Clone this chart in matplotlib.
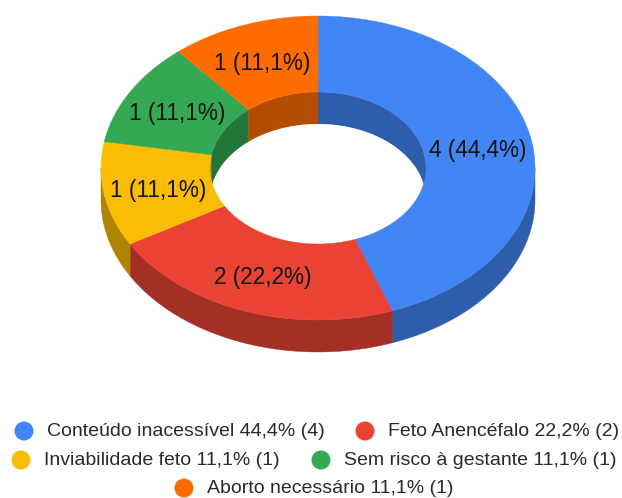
import numpy as np
import matplotlib
matplotlib.use("Agg")
import matplotlib.pyplot as plt
from matplotlib.patches import Polygon, Circle, Ellipse

plt.rcParams['font.family'] = ['Liberation Sans', 'DejaVu Sans']

labels = ["Conteúdo inacessível", "Feto Anencéfalo", "Inviabilidade feto", "Sem risco à gestante", "Aborto necessário"]
values = [4, 2, 1, 1, 1]
slice_labels = ["4 (44,4%)", "2 (22,2%)", "1 (11,1%)", "1 (11,1%)", "1 (11,1%)"]
legend_labels = ["Conteúdo inacessível 44,4% (4)", "Feto Anencéfalo 22,2% (2)", "Inviabilidade feto 11,1% (1)",
                 "Sem risco à gestante 11,1% (1)", "Aborto necessário 11,1% (1)"]
colors = ["#4285f4", "#ea4335", "#fbbc04", "#34a853", "#ff6d01"]
dark_colors = ["#2e5dab", "#a42f25", "#b08403", "#247538", "#b34c01"]

W, H = 622, 498
fig = plt.figure(figsize=(W/100, H/100), dpi=100)
ax = fig.add_axes([0, 0, 1, 1])
ax.set_xlim(0, W); ax.set_ylim(H, 0); ax.axis('off')

cx, cy, rx, ry, irx, iry, depth = 318, 168, 217, 152, 108, 76, 32

def pt(t, a, b, dy=0):
    return np.column_stack([cx + a*np.sin(t), cy - b*np.cos(t) + dy])

vals = np.array(values, float)
edges = np.r_[0, np.cumsum(vals)] / vals.sum() * 2*np.pi
# inner back wall
for i in range(len(vals)):
    a0, a1 = edges[i], edges[i+1]
    for lo, hi in [(a0, min(a1, np.pi/2)), (max(a0, 3*np.pi/2), a1)]:
        if hi > lo:
            t = np.linspace(lo, hi, 80)
            ax.add_patch(Polygon(np.vstack([pt(t, irx, iry), pt(t[::-1], irx, iry, depth)]),
                                 fc=dark_colors[i], ec=dark_colors[i], lw=0.3, zorder=1))
# see-through part of the hole: lower rim of the inner wall
ax.add_patch(Ellipse((cx, cy+depth), 2*irx, 2*iry, fc='white', ec='none', zorder=1.5))
# outer front wall
for i in range(len(vals)):
    lo, hi = max(edges[i], np.pi/2), min(edges[i+1], 3*np.pi/2)
    if hi > lo:
        t = np.linspace(lo, hi, 120)
        ax.add_patch(Polygon(np.vstack([pt(t, rx, ry), pt(t[::-1], rx, ry, depth)]),
                             fc=dark_colors[i], ec=dark_colors[i], lw=0.3, zorder=2))
# top faces
for i in range(len(vals)):
    t = np.linspace(edges[i], edges[i+1], 200)
    ax.add_patch(Polygon(np.vstack([pt(t, rx, ry), pt(t[::-1], irx, iry)]),
                         fc=colors[i], ec=colors[i], lw=0.3, zorder=3))
# slice labels
mids = (edges[:-1] + edges[1:]) / 2
for m, s in zip(mids, slice_labels):
    p = pt(np.array([m]), (rx+irx)/2, (ry+iry)/2)[0]
    ax.text(p[0], p[1]+2.5, s, ha='center', va='center', fontsize=16.3, color='#141414', zorder=5)

# legend
leg_pos = [(24, 47, 431), (365, 388, 431), (21, 44, 460), (321, 344, 460), (184, 207, 488)]
for (mx, tx, y), c, s in zip(leg_pos, colors, legend_labels):
    ax.add_patch(Circle((mx, y), 9.5, fc=c, ec='none', zorder=5))
    ax.text(tx, y, s, ha='left', va='center', fontsize=14, color='#2a2a2a', zorder=5)

fig.savefig("out.png", dpi=100)
